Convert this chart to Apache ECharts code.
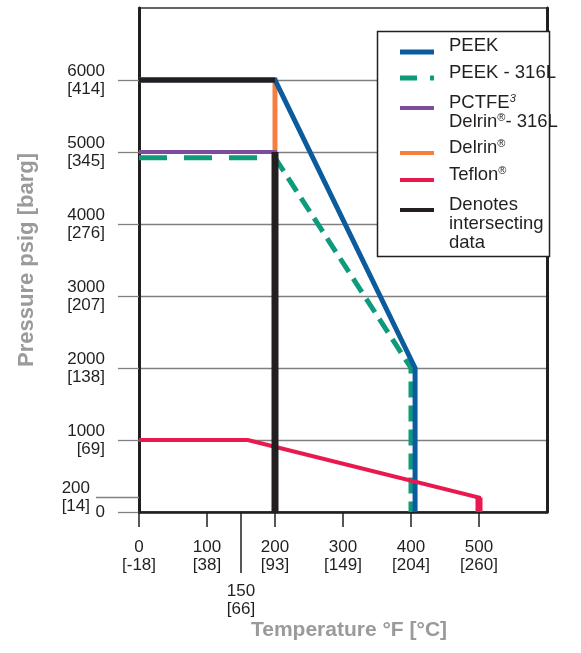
<!DOCTYPE html>
<html><head><meta charset="utf-8">
<script src="https://cdn.jsdelivr.net/npm/echarts@6/dist/echarts.min.js"></script>
<style>html,body{margin:0;padding:0;background:#fff}#c{width:581px;height:653px}</style>
</head><body><div id="c"></div>
<script>
// ---- tick labels ----
const xTickValues = [0, 100, 200, 300, 400, 500];
const xTickCelsius = ['-18', '38', '93', '149', '204', '260'];
const xExtraTick = [150];
const xExtraCelsius = ['66'];
const yTickValues = [0, 1000, 2000, 3000, 4000, 5000, 6000];
const yTickBar = ['', '69', '138', '207', '276', '345', '414'];
const yExtraTick = [200];
const yExtraBar = ['14'];

// ---- series data [°F, psig] ----
const peek = [[0, 6000], [200, 6000], [406, 2000], [406, 0]];
const peek316L = [[0, 4920], [200, 4920], [400, 2000], [400, 0]];
const pctfeDelrin316L = [[0, 5000], [200, 5000], [200, 0]];
const delrin = [[0, 6000], [200, 6000], [200, 0]];
const teflon = [[0, 1000], [160, 1000], [500, 200], [500, 0]];
const intersectTop = [[0, 6000], [200, 6000]];
const intersectVertical = [[200, 5000], [200, 0]];

const seriesNames = ['PEEK', 'PEEK - 316L', 'PCTFE3 Delrin®- 316L', 'Delrin®', 'Teflon®', 'Denotes intersecting data'];

const FONT = '"Liberation Sans", Arial, Helvetica, sans-serif';
const C = {
  blue: '#0b5b9d', green: '#0e9b7b', purple: '#7c4d9f', orange: '#f47f3e',
  red: '#e8194f', black: '#231f20', grid: '#808080', title: '#9a9a9a', text: '#231f20'
};

function line(name, data, color, width, extra) {
  return Object.assign({
    type: 'line', name: name, data: data, symbol: 'none', silent: true,
    animation: false, xAxisIndex: 0, yAxisIndex: 0,
    lineStyle: { color: color, width: width, join: 'miter', cap: 'butt' }
  }, extra || {});
}

const series = [
  line(seriesNames[1], peek316L.slice(0, 2), C.green, 5, { lineStyle: { color: C.green, width: 5, type: [28, 17] }, z: 2 }),
  line(seriesNames[1], peek316L.slice(1), C.green, 5, { lineStyle: { color: C.green, width: 5, type: [16, 8] }, z: 2 }),
  line(seriesNames[3], delrin, C.orange, 5, { z: 3 }),
  line(seriesNames[0], peek, C.blue, 5, { z: 4 }),
  line(seriesNames[2], pctfeDelrin316L, C.purple, 4, { z: 5 }),
  line(seriesNames[4], teflon, C.red, 4, { z: 6 }),
  line(seriesNames[4], teflon.slice(2), C.red, 7, { z: 6 }),
  line(seriesNames[5], intersectTop, C.black, 5, { z: 7 }),
  line(seriesNames[5], intersectVertical, C.black, 7, { z: 7 })
];

const labelStyle = { color: C.text, fontSize: 17, lineHeight: 18, fontFamily: FONT };

// ---- legend built as graphic ----
const legendRows = [
  { color: C.blue, dash: null, w: 5, sy: 52, ty: 46, text: 'PEEK' },
  { color: C.green, dash: [17, 13], w: 5, sy: 78, ty: 73, text: 'PEEK - 316L' },
  { color: C.purple, dash: null, w: 4, sy: 108, ty: 112, text: 'PCTFE{s|3}\nDelrin{r|®}- 316L' },
  { color: C.orange, dash: null, w: 4, sy: 153, ty: 148, text: 'Delrin{r|®}' },
  { color: C.red, dash: null, w: 4, sy: 180, ty: 175, text: 'Teflon{r|®}' },
  { color: C.black, dash: null, w: 4, sy: 210, ty: 224, text: 'Denotes\nintersecting\ndata' }
];
const legendGraphic = [{
  type: 'rect', shape: { x: 377.5, y: 31.5, width: 172, height: 225 },
  style: { fill: '#fff', stroke: '#231f20', lineWidth: 1.5 }, z: 100
}];
legendRows.forEach(function (r) {
  legendGraphic.push({
    type: 'line', shape: { x1: 400, y1: r.sy, x2: 434, y2: r.sy },
    style: { stroke: r.color, lineWidth: r.w, lineDash: r.dash || null }, z: 101
  });
  legendGraphic.push({
    type: 'text', x: 449, y: r.ty, z: 101,
    style: {
      text: r.text, fill: C.text, font: '18.5px ' + FONT, align: 'left', verticalAlign: 'middle',
      lineHeight: 19,
      rich: {
        s: { fontSize: 11, fontStyle: 'italic', verticalAlign: 'top', lineHeight: 19, fill: C.text, fontFamily: FONT },
        r: { fontSize: 11, verticalAlign: 'top', lineHeight: 19, fill: C.text, fontFamily: FONT }
      }
    }
  });
});

const option = {
  animation: false,
  backgroundColor: '#fff',
  grid: { left: 139, right: 34, top: 8, bottom: 141, show: true, borderColor: '#333', borderWidth: 1.5 },
  xAxis: [{
    type: 'value', min: 0, max: 600, interval: 100, position: 'bottom',
    name: 'Temperature °F [°C]', nameLocation: 'middle', nameGap: 108,
    nameTextStyle: { color: C.title, fontSize: 21, fontWeight: 'bold', fontFamily: FONT, padding: [0, 0, 0, 12] },
    axisLine: { show: true, onZero: false, lineStyle: { color: C.black, width: 2.5 } },
    axisTick: { show: true, length: 15, customValues: xTickValues, lineStyle: { color: C.black, width: 1.5 } },
    axisLabel: Object.assign({ margin: 26, customValues: xTickValues,
      formatter: function (v) { const i = xTickValues.indexOf(v); return v + '\n[' + xTickCelsius[i] + ']'; } }, labelStyle),
    splitLine: { show: false }
  }, {
    type: 'value', min: 0, max: 600, interval: 100, position: 'bottom',
    axisLine: { show: false },
    axisTick: { show: true, length: 61, customValues: xExtraTick, lineStyle: { color: C.black, width: 1.5 } },
    axisLabel: Object.assign({ margin: 70, customValues: xExtraTick,
      formatter: function (v) { const i = xExtraTick.indexOf(v); return v + '\n[' + xExtraCelsius[i] + ']'; } }, labelStyle),
    splitLine: { show: false }
  }],
  yAxis: [{
    type: 'value', min: 0, max: 7000, interval: 1000, position: 'left',
    name: 'Pressure psig [barg]', nameLocation: 'middle', nameGap: 101,
    nameTextStyle: { color: C.title, fontSize: 22, fontWeight: 'bold', fontFamily: FONT },
    axisLine: { show: true, onZero: false, lineStyle: { color: C.black, width: 3 } },
    axisTick: { show: true, length: 21, customValues: yTickValues, lineStyle: { color: C.grid, width: 1.3 } },
    axisLabel: Object.assign({ margin: 34, customValues: yTickValues, align: 'right',
      formatter: function (v) { const i = yTickValues.indexOf(v); return yTickBar[i] ? v + '\n[' + yTickBar[i] + ']' : String(v); } }, labelStyle),
    splitLine: { show: true, lineStyle: { color: C.grid, width: 1.3 } }
  }, {
    type: 'value', min: 0, max: 7000, interval: 1000, position: 'left',
    axisLine: { show: false },
    axisTick: { show: true, length: 43, customValues: yExtraTick, lineStyle: { color: C.grid, width: 1.3 } },
    axisLabel: Object.assign({ margin: 49, customValues: yExtraTick, align: 'right',
      formatter: function (v) { const i = yExtraTick.indexOf(v); return v + '\n[' + yExtraBar[i] + ']'; } }, labelStyle),
    splitLine: { show: false }
  }, {
    type: 'value', min: 0, max: 7000, interval: 1000, position: 'right',
    axisLine: { show: true, onZero: false, lineStyle: { color: C.black, width: 3 } },
    axisTick: { show: false }, axisLabel: { show: false }, splitLine: { show: false }
  }],
  series: series,
  graphic: legendGraphic
};

const chart = echarts.init(document.getElementById('c'), null, { renderer: 'canvas' });
chart.setOption(option);
</script>
</body></html>
